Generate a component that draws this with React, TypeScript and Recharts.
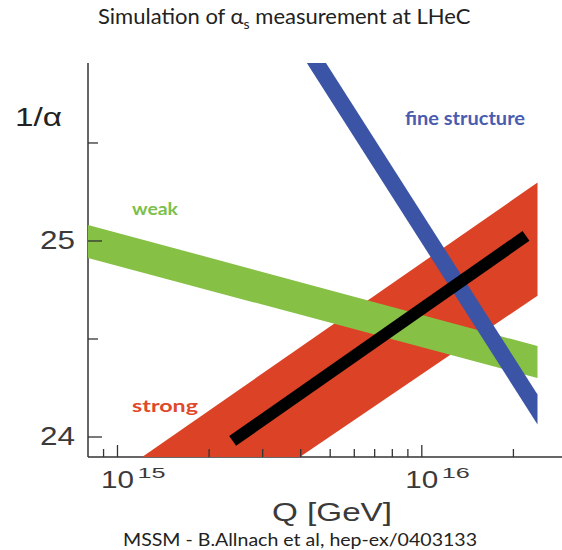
import { Area, ComposedChart, Line, XAxis, YAxis } from "recharts";

// Q in GeV (log axis), values are 1/alpha
const qTicks = [9e14, 1e15, 2e15, 3e15, 4e15, 5e15, 6e15, 7e15, 8e15, 9e15, 1e16, 2e16];
const yTicks = [24, 24.5, 25, 25.5];

// bands: lower / upper edge at each Q
const weakQ = [8e14, 2.4e16];
const weakLo = [24.913, 24.301];
const weakHi = [25.082, 24.464];

const strongQ = [1.2e15, 2.4e16];
const strongLo = [23.35, 24.721];
const strongHi = [23.896, 25.298];

const emQ = [4e15, 2.4e16];
const emLo = [25.957, 24.064];
const emHi = [26.11, 24.217];

// simulated LHeC measurement
const fitQ = [2.39e15, 2.2e16];
const fitVal = [23.98, 25.026];

const band = (q: number[], lo: number[], hi: number[]) =>
  q.map((v, i) => ({ q: v, range: [lo[i], hi[i]] }));

const weakData = band(weakQ, weakLo, weakHi);
const strongData = band(strongQ, strongLo, strongHi);
const emData = band(emQ, emLo, emHi);
const fitData = fitQ.map((v, i) => ({ q: v, v: fitVal[i] }));

const AXIS = "#333";
const HELV = "'Liberation Sans', Arial, sans-serif";
const CAL = "Lato, 'Open Sans', sans-serif";

const isMajorQ = (v: number) => {
  const e = Math.round(Math.log10(v));
  return Math.abs(v / Math.pow(10, e) - 1) < 1e-6;
};

const BottomTick = ({ x, y, payload }: any) => {
  const v = payload.value as number;
  const major = isMajorQ(v);
  const e = Math.round(Math.log10(v));
  return (
    <g>
      <line x1={x} x2={x} y1={y} y2={y - (major ? 12 : 8)} stroke={AXIS} strokeWidth={1.3} />
      {major && (
        <>
          <text x={x} y={y + 31} textAnchor="middle" fontSize={23} textLength={33}
            lengthAdjust="spacingAndGlyphs" fill="#3a3a3a" fontFamily={HELV}>10</text>
          <text x={x + 20} y={y + 21} fontSize={15} textLength={28}
            lengthAdjust="spacingAndGlyphs" fill="#3a3a3a" fontFamily={HELV}>{e}</text>
        </>
      )}
    </g>
  );
};

const TopTick = ({ x, y, payload }: any) => {
  const major = isMajorQ(payload.value);
  return <line x1={x} x2={x} y1={y} y2={y + (major ? 12 : 8)} stroke={AXIS} strokeWidth={1.3} />;
};

const LeftTick = ({ x, y, payload }: any) => {
  const major = Number.isInteger(payload.value);
  return (
    <g>
      <line x1={x} x2={x + (major ? 14 : 10)} y1={y} y2={y} stroke={AXIS} strokeWidth={1.3} />
      {major && (
        <text x={x - 13} y={y + 8} textAnchor="end" fontSize={26} textLength={35}
          lengthAdjust="spacingAndGlyphs" fill="#3a3a3a" fontFamily={HELV}>{payload.value}</text>
      )}
    </g>
  );
};

const RightTick = ({ x, y, payload }: any) => {
  const major = Number.isInteger(payload.value);
  return <line x1={x} x2={x - (major ? 10 : 6)} y1={y} y2={y} stroke={AXIS} strokeWidth={1.3} />;
};

export default function App() {
  const xDomain = [8e14, 3e16];
  const yDomain = [23.898, 25.908];
  return (
    <div style={{ position: "absolute", left: 0, top: 0, width: 562, height: 550, overflow: "hidden", background: "#fff" }}>
      <ComposedChart width={575} height={550} margin={{ top: 63, right: 8, bottom: 0, left: 0 }}>
        <XAxis xAxisId="b" type="number" dataKey="q" scale="log" domain={xDomain} allowDataOverflow
          ticks={qTicks} interval={0} tickSize={0} tickMargin={0} height={93} tickLine={false}
          axisLine={{ stroke: AXIS, strokeWidth: 1.5 }} tick={BottomTick} zIndex={50} />
        <XAxis xAxisId="t" orientation="top" type="number" dataKey="q" scale="log" domain={xDomain} allowDataOverflow
          ticks={qTicks} interval={0} tickSize={0} tickMargin={0} height={0} tickLine={false}
          axisLine={{ stroke: AXIS, strokeWidth: 1.5 }} tick={TopTick} zIndex={50} />
        <YAxis yAxisId="l" type="number" domain={yDomain} allowDataOverflow ticks={yTicks} interval={0}
          tickSize={0} tickMargin={0} width={88} tickLine={false}
          axisLine={{ stroke: AXIS, strokeWidth: 1.5 }} tick={LeftTick} zIndex={50} />
        <YAxis yAxisId="r" orientation="right" type="number" domain={yDomain} allowDataOverflow ticks={yTicks}
          interval={0} tickSize={0} tickMargin={0} width={0} tickLine={false}
          axisLine={{ stroke: AXIS, strokeWidth: 1.5 }} tick={RightTick} zIndex={50} />

        <Area xAxisId="b" yAxisId="l" data={strongData} dataKey="range" type="linear"
          fill="#dc4326" fillOpacity={1} stroke="none" dot={false} activeDot={false} isAnimationActive={false} />
        <Area xAxisId="b" yAxisId="l" data={weakData} dataKey="range" type="linear"
          fill="#86c146" fillOpacity={1} stroke="none" dot={false} activeDot={false} isAnimationActive={false} />
        <Area xAxisId="b" yAxisId="l" data={emData} dataKey="range" type="linear"
          fill="#3b54a5" fillOpacity={1} stroke="none" dot={false} activeDot={false} isAnimationActive={false} />
        <Line xAxisId="b" yAxisId="l" data={fitData} dataKey="v" type="linear"
          stroke="#000" strokeWidth={12} dot={false} activeDot={false} isAnimationActive={false} />
      </ComposedChart>

      <svg width={562} height={550} style={{ position: "absolute", left: 0, top: 0, pointerEvents: "none" }}>
        <text x={98} y={24} fontFamily={CAL} fontSize={22} fill="#222">
          Simulation of α<tspan dy={5} fontSize={14}>s</tspan>
          <tspan dy={-5}> measurement at LHeC</tspan>
        </text>
        <text x={15} y={126} fontFamily={HELV} fontSize={26} fill="#222" textLength={47}
          lengthAdjust="spacingAndGlyphs">1/α</text>
        <text x={332} y={521} textAnchor="middle" fontFamily={HELV} fontSize={26} fill="#3a3a3a"
          textLength={120} lengthAdjust="spacingAndGlyphs">Q [GeV]</text>
        <text x={123} y={546} fontFamily={CAL} fontSize={17} fill="#222" textLength={354}
          lengthAdjust="spacingAndGlyphs">MSSM - B.Allnach et al, hep-ex/0403133</text>
        <text x={132} y={215} fontFamily={CAL} fontSize={17} fontWeight={700} fill="#7cc04b"
          textLength={46} lengthAdjust="spacingAndGlyphs">weak</text>
        <text x={132} y={412} fontFamily={CAL} fontSize={17} fontWeight={700} fill="#e0482b"
          textLength={66} lengthAdjust="spacingAndGlyphs">strong</text>
        <text x={405} y={125} fontFamily={CAL} fontSize={18} fontWeight={700} fill="#4a5cb0"
          textLength={120} lengthAdjust="spacingAndGlyphs">fine structure</text>
      </svg>
    </div>
  );
}
